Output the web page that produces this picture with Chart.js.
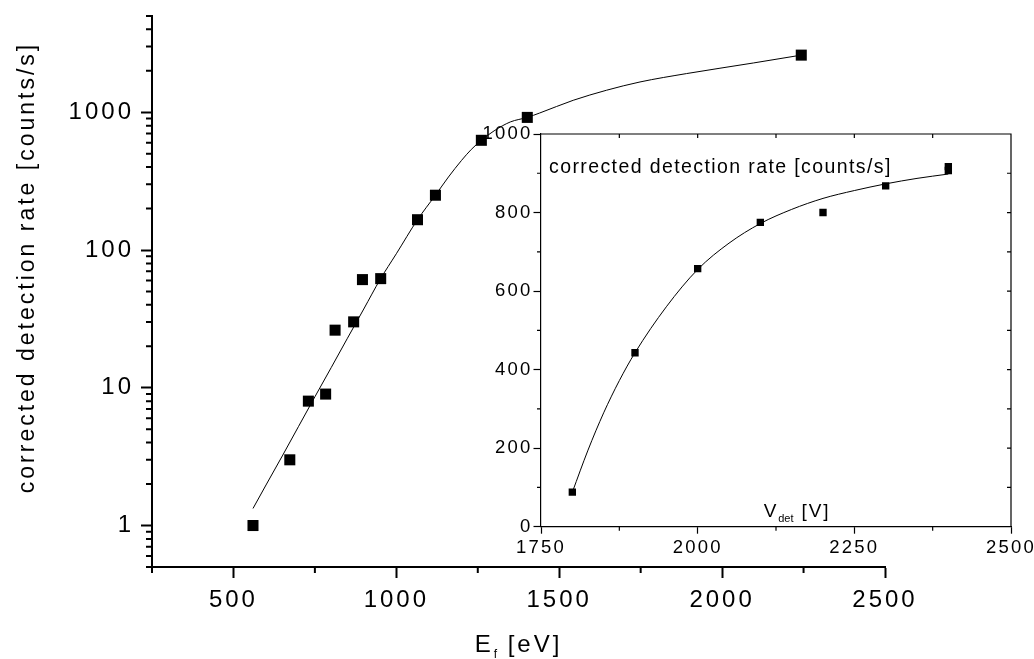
<!DOCTYPE html>
<html><head><meta charset="utf-8">
<script src="https://cdn.jsdelivr.net/npm/chart.js@4.4.0/dist/chart.umd.min.js"></script>
<style>
html,body{margin:0;padding:0;background:#fff;}
#wrap{position:relative;width:1034px;height:659px;overflow:hidden;background:#fff;}
#main{position:absolute;left:0;top:0;}
#inset{position:absolute;left:470px;top:110px;}
</style></head><body>
<div id="wrap"><canvas id="main" width="1034" height="659"></canvas><canvas id="inset" width="580" height="470"></canvas></div>
<script>
// ---------- main plot data ----------
const energyEf = [560, 673, 730, 783, 812, 869, 896, 952, 1065, 1120, 1261, 1402, 2243];
const rateMain = [1.0, 3.0, 8.0, 9.0, 26.2, 30.1, 61, 62, 166, 250, 626, 918, 2600];
const fitEf   = [560, 600, 650, 700, 750, 800, 850, 900, 950, 1000, 1065, 1120, 1160, 1200, 1230, 1261, 1300, 1350, 1402, 1440, 1543, 1645, 1748, 1891, 2096, 2243];
const fitRate = [1.33, 1.97, 3.2, 5.25, 8.6, 14.0, 22.9, 37.3, 61, 94, 166, 250, 339, 447, 537, 626, 733, 851, 918, 988, 1222, 1445, 1660, 1910, 2280, 2600];
const xMajorTicks = [500, 1000, 1500, 2000, 2500];
const xMinorTicks = [250, 750, 1250, 1750, 2250];
const yMajorTicks = [1, 10, 100, 1000];
const yMinorTicks = [0.5,0.6,0.7,0.8,0.9, 2,3,4,5,6,7,8,9, 20,30,40,50,60,70,80,90, 200,300,400,500,600,700,800,900, 2000,3000,4000,5000];
const yTitle = 'corrected detection rate [counts/s]';
const xTitleMain = 'E', xTitleSub = 'f', xTitleRest = ' [eV]';

// ---------- inset data ----------
const vDet      = [1800, 1900, 2000, 2100, 2200, 2300, 2400, 2400];
const rateInset = [88, 443, 657, 775, 800, 868, 907, 917];
const fitV      = [1800, 1825, 1850, 1875, 1900, 1950, 2000, 2050, 2100, 2150, 2200, 2250, 2300, 2350, 2400];
const fitInset  = [88, 195, 290, 372, 443, 560, 655, 722, 772, 808, 836, 856, 873, 887, 898];
const insetXMajor = [1750, 2000, 2250, 2500];
const insetXMinor = [1875, 2125, 2375];
const insetXTop   = [1875, 2000, 2125, 2250, 2375];
const insetYMajor = [0, 200, 400, 600, 800, 1000];
const insetYMinor = [100, 300, 500, 700, 900];
const insetYRight = [100, 200, 300, 400, 500, 600, 700, 800, 900];
const insetTitle = 'corrected detection rate [counts/s]';
const insetXMain = 'V', insetXSub = 'det', insetXRest = ' [V]';

const FONT = '"Liberation Sans", Arial, sans-serif';

function zeroPad(s){ s.paddingTop=0; s.paddingBottom=0; s.paddingLeft=0; s.paddingRight=0; }

function spacingPlugin(px){
  return {
    id: 'spacing',
    beforeUpdate(chart){ chart.ctx.letterSpacing = px; },
    beforeLayout(chart){ chart.ctx.letterSpacing = px; },
    beforeDraw(chart){ chart.ctx.letterSpacing = px; }
  };
}

function drawSubLabel(ctx, main, sub, rest, size, subSize, subDrop, spacing, cx, baseline){
  ctx.letterSpacing = spacing + 'px';
  ctx.font = size + 'px ' + FONT;
  const w1 = ctx.measureText(main).width;
  const w3 = ctx.measureText(rest).width;
  ctx.font = subSize + 'px ' + FONT;
  ctx.letterSpacing = '0px';
  const w2 = ctx.measureText(sub).width + 1;
  let x = cx - (w1 + w2 + w3) / 2;
  ctx.textAlign = 'left'; ctx.textBaseline = 'alphabetic';
  ctx.letterSpacing = spacing + 'px';
  ctx.font = size + 'px ' + FONT;
  ctx.fillText(main, x, baseline); x += w1;
  ctx.letterSpacing = '0px';
  ctx.font = subSize + 'px ' + FONT;
  ctx.fillText(sub, x, baseline + subDrop); x += w2;
  ctx.letterSpacing = spacing + 'px';
  ctx.font = size + 'px ' + FONT;
  ctx.fillText(rest, x, baseline);
}

const mainDecor = {
  id: 'mainDecor',
  afterDraw(chart){
    const {ctx, chartArea:a} = chart;
    const x = chart.scales.x, y = chart.scales.y;
    ctx.save();
    ctx.strokeStyle = '#000'; ctx.lineWidth = 2;
    ctx.beginPath();
    xMinorTicks.forEach(v => { const p = x.getPixelForValue(v); ctx.moveTo(p, a.bottom); ctx.lineTo(p, a.bottom + 6); });
    yMinorTicks.forEach(v => { const p = y.getPixelForValue(v); ctx.moveTo(a.left - 6, p); ctx.lineTo(a.left, p); });
    ctx.stroke();
    ctx.fillStyle = '#000';
    // y title
    ctx.save();
    ctx.letterSpacing = '3px';
    ctx.font = '23px ' + FONT;
    ctx.textAlign = 'center'; ctx.textBaseline = 'alphabetic';
    ctx.translate(33.5, 267.5); ctx.rotate(-Math.PI/2);
    ctx.fillText(yTitle, 0, 0);
    ctx.restore();
    // x title
    drawSubLabel(ctx, xTitleMain, xTitleSub, xTitleRest, 24, 12, 6, 3, (a.left + a.right)/2, 652);
    ctx.restore();
  }
};

const insetDecor = {
  id: 'insetDecor',
  afterDraw(chart){
    const {ctx, chartArea:a} = chart;
    const x = chart.scales.x, y = chart.scales.y;
    ctx.save();
    ctx.strokeStyle = '#000'; ctx.lineWidth = 1.2;
    ctx.beginPath();
    insetXMinor.forEach(v => { const p = x.getPixelForValue(v); ctx.moveTo(p, a.bottom); ctx.lineTo(p, a.bottom + 4); });
    insetYMinor.forEach(v => { const p = y.getPixelForValue(v); ctx.moveTo(a.left - 4, p); ctx.lineTo(a.left, p); });
    ctx.moveTo(a.left, a.top); ctx.lineTo(a.right, a.top); ctx.lineTo(a.right, a.bottom);
    insetXTop.forEach(v => { const p = x.getPixelForValue(v); ctx.moveTo(p, a.top); ctx.lineTo(p, a.top + 4); });
    insetYRight.forEach(v => { const p = y.getPixelForValue(v); ctx.moveTo(a.right - 4, p); ctx.lineTo(a.right, p); });
    ctx.stroke();
    ctx.fillStyle = '#000';
    ctx.letterSpacing = '1.4px';
    ctx.font = '19.5px ' + FONT;
    ctx.textAlign = 'left'; ctx.textBaseline = 'alphabetic';
    ctx.fillText(insetTitle, a.left + 8, 173 - 110);
    drawSubLabel(ctx, insetXMain, insetXSub, insetXRest, 19, 11, 5, 1.8, 797 - 470, 517 - 110);
    ctx.restore();
  }
};

new Chart(document.getElementById('main'), {
  type: 'scatter',
  data: { datasets: [
    { label: 'fit', data: fitEf.map((v, i) => ({x: v, y: fitRate[i]})), showLine: true,
      borderColor: '#000', borderWidth: 1, pointRadius: 0, cubicInterpolationMode: 'monotone', fill: false, order: 2 },
    { label: 'data', data: energyEf.map((v, i) => ({x: v, y: rateMain[i]})), showLine: false,
      pointStyle: 'rect', pointRadius: 7.8, backgroundColor: '#000', borderColor: '#000', borderWidth: 0, order: 1 }
  ]},
  options: {
    responsive: false, animation: false, devicePixelRatio: 1,
    layout: { padding: { left: 0, top: 16, right: 149, bottom: 0 } },
    plugins: { legend: { display: false }, tooltip: { enabled: false } },
    scales: {
      x: { type: 'linear', min: 250, max: 2500,
        afterBuildTicks: s => { s.ticks = xMajorTicks.map(v => ({value: v})); },
        afterFit: s => { s.height = 92; zeroPad(s); },
        grid: { drawOnChartArea: false, drawTicks: true, tickLength: 11, tickWidth: 2, tickColor: '#000' },
        border: { display: true, color: '#000', width: 2 },
        ticks: { color: '#000', font: { family: FONT, size: 24 }, padding: 8, maxRotation: 0, autoSkip: false, callback: v => String(v) } },
      y: { type: 'logarithmic', min: 0.5, max: 5000,
        afterBuildTicks: s => { s.ticks = yMajorTicks.map(v => ({value: v})); },
        afterFit: s => { s.width = 152; zeroPad(s); },
        grid: { drawOnChartArea: false, drawTicks: true, tickLength: 11, tickWidth: 2, tickColor: '#000' },
        border: { display: true, color: '#000', width: 2 },
        ticks: { color: '#000', font: { family: FONT, size: 24 }, padding: 7, autoSkip: false, callback: v => String(v) } }
    }
  },
  plugins: [spacingPlugin('3px'), mainDecor]
});

new Chart(document.getElementById('inset'), {
  type: 'scatter',
  data: { datasets: [
    { label: 'fit', data: fitV.map((v, i) => ({x: v, y: fitInset[i]})), showLine: true,
      borderColor: '#000', borderWidth: 1, pointRadius: 0, cubicInterpolationMode: 'monotone', fill: false, order: 2 },
    { label: 'data', data: vDet.map((v, i) => ({x: v, y: rateInset[i]})), showLine: false,
      pointStyle: 'rect', pointRadius: 5.2, backgroundColor: '#000', borderColor: '#000', borderWidth: 0, order: 1 }
  ]},
  options: {
    responsive: false, animation: false, devicePixelRatio: 1,
    layout: { padding: { left: 0, top: 24, right: 39, bottom: 0 } },
    plugins: { legend: { display: false }, tooltip: { enabled: false } },
    scales: {
      x: { type: 'linear', min: 1750, max: 2500,
        afterBuildTicks: s => { s.ticks = insetXMajor.map(v => ({value: v})); },
        afterFit: s => { s.height = 53.3; zeroPad(s); },
        grid: { drawOnChartArea: false, drawTicks: true, tickLength: 7, tickWidth: 1.2, tickColor: '#000' },
        border: { display: true, color: '#000', width: 1.2 },
        ticks: { color: '#000', font: { family: FONT, size: 18.5 }, padding: 3, maxRotation: 0, autoSkip: false, callback: v => String(v) } },
      y: { type: 'linear', min: 0, max: 1000,
        afterBuildTicks: s => { s.ticks = insetYMajor.map(v => ({value: v})); },
        afterFit: s => { s.width = 71; zeroPad(s); },
        grid: { drawOnChartArea: false, drawTicks: true, tickLength: 7.5, tickWidth: 1.2, tickColor: '#000' },
        border: { display: true, color: '#000', width: 1.2 },
        ticks: { color: '#000', font: { family: FONT, size: 18.5 }, padding: 1, autoSkip: false, callback: v => String(v) } }
    }
  },
  plugins: [spacingPlugin('2.2px'), insetDecor]
});
</script>
</body></html>
